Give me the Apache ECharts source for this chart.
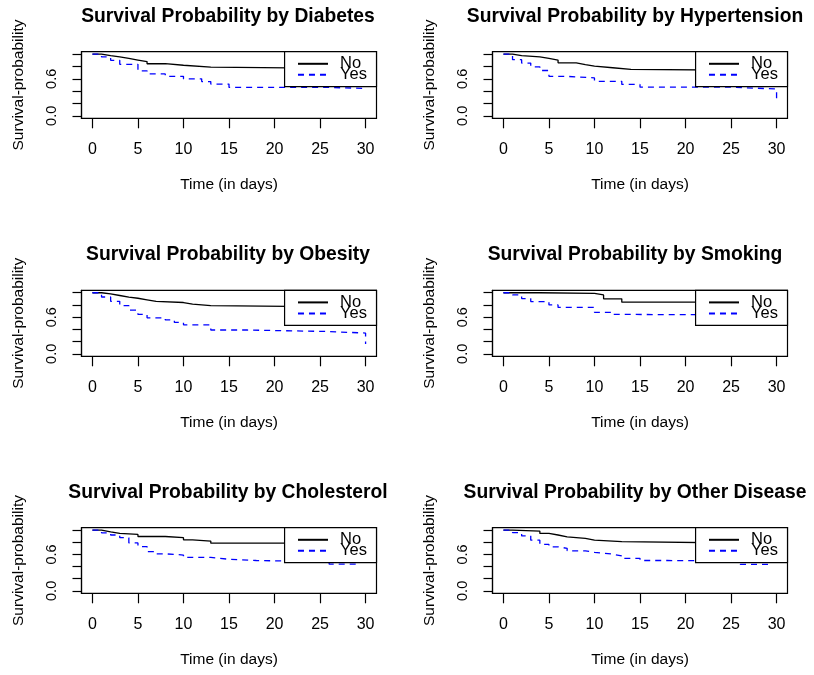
<!DOCTYPE html>
<html><head><meta charset="utf-8">
<script src="https://cdn.jsdelivr.net/npm/echarts@6/dist/echarts.min.js"></script>
<style>html,body{margin:0;padding:0;background:#fff}#c{width:814px;height:675px}</style>
</head><body><div id="c"></div>
<script>
// ---- data ----
const timeTicks = [0, 5, 10, 15, 20, 25, 30];
const probTicks = [0, 0.2, 0.4, 0.6, 0.8, 1.0];
const probLabels = [0, 0.6];
const groups = ['No', 'Yes'];
const factors = ['Diabetes', 'Hypertension', 'Obesity', 'Smoking', 'Cholesterol', 'Other Disease'];

// [time (days), survival probability]
const diabetesNo = [[0,1],[1,0.975],[2,0.955],[3,0.93],[4,0.905],[5,0.88],[6,0.845],[8,0.82],[10,0.79],[13,0.765],[30,0.765]];
const diabetesYes = [[0,1],[1,0.955],[2,0.90],[3,0.835],[5,0.73],[6,0.68],[8,0.64],[10,0.60],[12,0.555],[13,0.515],[15,0.46],[26,0.445],[30,0.445]];
const hypertensionNo = [[0,1],[1,0.975],[2,0.955],[4,0.93],[5,0.905],[6,0.86],[8,0.83],[9,0.805],[10,0.78],[12,0.755],[14,0.735],[30,0.735]];
const hypertensionYes = [[0,1],[1,0.91],[2,0.855],[3,0.795],[4,0.735],[5,0.64],[7,0.615],[10,0.56],[13,0.51],[15,0.465],[25,0.435],[30,0.21]];
const obesityNo = [[0,1],[1,0.98],[2,0.955],[3,0.93],[4,0.91],[5,0.885],[6,0.86],[7,0.84],[10,0.815],[11,0.79],[13,0.765],[30,0.765]];
const obesityYes = [[0,1],[1,0.93],[2,0.86],[3,0.79],[4,0.715],[5,0.645],[6,0.59],[8,0.555],[9,0.515],[10,0.475],[13,0.39],[17,0.365],[26,0.34],[30,0.16]];
const smokingNo = [[0,1],[4,0.99],[10,0.965],[11,0.90],[13,0.845],[30,0.845]];
const smokingYes = [[0,1],[1,0.965],[2,0.905],[3,0.855],[5,0.80],[6,0.76],[10,0.68],[12,0.645],[14,0.635],[30,0.635]];
const cholesterolNo = [[0,1],[1,0.97],[2,0.945],[3,0.93],[5,0.895],[8,0.875],[10,0.84],[11,0.82],[13,0.785],[30,0.785]];
const cholesterolYes = [[0,1],[1,0.955],[2,0.92],[3,0.875],[4,0.79],[5,0.73],[6,0.645],[7,0.61],[8,0.59],[10,0.55],[13,0.52],[15,0.50],[18,0.48],[26,0.44],[29.4,0.44]];
const otherNo = [[0,1],[1,0.985],[4,0.945],[5,0.92],[6,0.89],[7,0.865],[9,0.835],[10,0.81],[13,0.78],[30,0.78]];
const otherYes = [[0,1],[1,0.96],[2,0.905],[3,0.835],[4,0.765],[5,0.725],[6,0.70],[7,0.66],[9,0.635],[10,0.605],[12,0.575],[13,0.535],[15,0.50],[18,0.49],[26,0.437],[29.4,0.437]];

const curves = [
  [diabetesNo, diabetesYes],
  [hypertensionNo, hypertensionYes],
  [obesityNo, obesityYes],
  [smokingNo, smokingYes],
  [cholesterolNo, cholesterolYes],
  [otherNo, otherYes]
];

// ---- layout & style ----
const FONT = "'Liberation Sans', Arial, sans-serif";
const W = 814;
const colLeft = [81.5, 492.5];
const plotW = 295;
const rowTop = [51.7, 290.3, 527.7];
const rowH = [66.6, 66, 65.6];
const titleX = [228, 635];
const groupStyle = [
  {color: '#000000', type: 'solid'},
  {color: '#0000ff', type: [6, 5]}
];

const grid = [], xAxis = [], yAxis = [], series = [], title = [], legend = [];
factors.forEach((f, i) => {
  const c = i % 2, r = Math.floor(i / 2);
  grid.push({left: colLeft[c], top: rowTop[r], width: plotW, height: rowH[r],
    show: true, borderColor: '#000', borderWidth: 1.2, backgroundColor: 'transparent',
    containLabel: false, outerBoundsMode: 'none'});
  xAxis.push({gridIndex: i, type: 'value', min: -1.2, max: 31.2,
    axisLine: {show: true, onZero: false, lineStyle: {color: '#000', width: 1.2}},
    axisTick: {show: true, customValues: timeTicks, length: 10, lineStyle: {color: '#000', width: 1.2}},
    axisLabel: {show: true, customValues: timeTicks, margin: 23, color: '#000', fontSize: 16, fontFamily: FONT},
    splitLine: {show: false},
    name: 'Time (in days)', nameLocation: 'middle', nameGap: 58,
    nameTextStyle: {color: '#000', fontSize: 15.5, fontFamily: FONT}});
  yAxis.push({gridIndex: i, type: 'value', min: -0.04, max: 1.04,
    axisLine: {show: true, onZero: false, lineStyle: {color: '#000', width: 1.2}},
    axisTick: {show: true, customValues: probTicks, length: 9, lineStyle: {color: '#000', width: 1.2}},
    axisLabel: {show: true, customValues: probLabels, rotate: 90, margin: 22, color: '#000', fontSize: 14.5,
      fontFamily: FONT, formatter: v => Number(v).toFixed(1)},
    splitLine: {show: false},
    name: 'Survival-probability', nameLocation: 'middle', nameGap: 55, nameRotate: 90,
    nameTextStyle: {color: '#000', fontSize: 15.5, fontFamily: FONT}});
  title.push({text: 'Survival Probability by ' + f, left: titleX[c], textAlign: 'center',
    top: rowTop[r] - 44.7, padding: 0,
    textStyle: {color: '#000', fontSize: 19.3, fontWeight: 'bold', fontFamily: FONT}});
  legend.push({data: groups, orient: 'vertical', right: W - (colLeft[c] + plotW), top: rowTop[r],
    padding: [3.6, 9.6, 3.4, 12.4], itemWidth: 30, itemHeight: 10, itemGap: -6,
    backgroundColor: '#fff', borderColor: '#000', borderWidth: 1.2, borderRadius: 0,
    selectedMode: false,
    itemStyle: {opacity: 0},
    textStyle: {color: '#000', fontSize: 16.5, fontFamily: FONT, padding: [0, 0, 0, 7]}});
  groups.forEach((g, k) => {
    series.push({type: 'line', name: g, xAxisIndex: i, yAxisIndex: i, data: curves[i][k],
      step: 'end', symbol: 'none', showSymbol: false, animation: false, silent: true,
      lineStyle: {color: groupStyle[k].color, width: 1.3, type: groupStyle[k].type},
      itemStyle: {color: groupStyle[k].color}});
  });
});

const chart = echarts.init(document.getElementById('c'), null, {renderer: 'canvas'});
chart.setOption({animation: false, backgroundColor: '#fff', title, legend, grid, xAxis, yAxis, series});
</script></body></html>
